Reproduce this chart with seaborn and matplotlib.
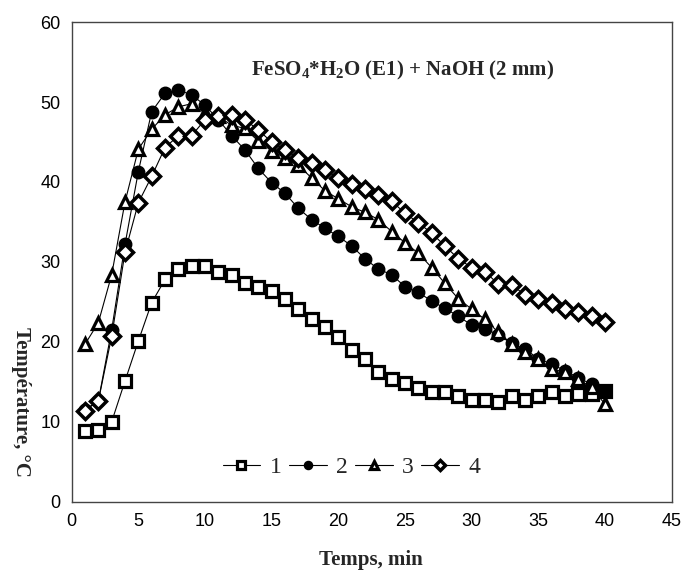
import matplotlib
matplotlib.use("Agg")
import matplotlib.pyplot as plt
import seaborn as sns
import pandas as pd
import numpy as np

sns.set_style("white")
plt.rcParams['font.family'] = ['Liberation Sans', 'DejaVu Sans']
plt.rcParams['mathtext.fontset'] = 'custom'
plt.rcParams['mathtext.rm'] = 'Liberation Serif:bold'
plt.rcParams['mathtext.bf'] = 'Liberation Serif:bold'
plt.rcParams['mathtext.it'] = 'Liberation Serif:bold'

time_min = list(range(1, 41))
series_labels = ["1", "2", "3", "4"]
s1 = [8.8, 9.0, 10.0, 15.1, 20.1, 24.9, 27.8, 29.1, 29.5, 29.5,
      28.7, 28.3, 27.4, 26.8, 26.3, 25.4, 24.1, 22.8, 21.9, 20.6,
      19.0, 17.9, 16.2, 15.4, 14.8, 14.2, 13.7, 13.7, 13.2, 12.7,
      12.7, 12.5, 13.2, 12.7, 13.2, 13.7, 13.2, 13.5, 13.5, 13.8]
s2 = [11.5, 12.6, 21.5, 32.2, 41.3, 48.8, 51.1, 51.5, 50.9, 49.6,
      47.8, 45.8, 44.0, 41.7, 39.9, 38.6, 36.7, 35.3, 34.2, 33.2,
      32.0, 30.4, 29.1, 28.4, 26.9, 26.2, 25.1, 24.2, 23.2, 22.1,
      21.6, 20.9, 19.8, 19.1, 17.9, 17.2, 16.4, 15.5, 14.7, 13.9]
s3 = [19.7, 22.4, 28.4, 37.5, 44.1, 46.6, 48.4, 49.4, 49.8, 48.6,
      48.2, 47.1, 46.7, 45.1, 43.9, 43.0, 42.1, 40.5, 38.9, 37.9,
      36.9, 36.2, 35.3, 33.8, 32.4, 31.1, 29.3, 27.3, 25.4, 24.1,
      22.8, 21.2, 19.7, 18.7, 17.9, 16.6, 16.2, 15.3, 14.3, 12.2]
s4 = [11.4, 12.6, 20.7, 31.2, 37.4, 40.7, 44.3, 45.8, 45.8, 47.8,
      48.2, 48.4, 47.8, 46.5, 45.0, 44.0, 43.0, 42.4, 41.5, 40.5,
      39.7, 39.1, 38.4, 37.6, 36.1, 34.9, 33.6, 32.0, 30.4, 29.3,
      28.8, 27.2, 27.1, 25.9, 25.3, 24.9, 24.1, 23.7, 23.2, 22.5]
x_ticks = [0, 5, 10, 15, 20, 25, 30, 35, 40, 45]
y_ticks = [0, 10, 20, 30, 40, 50, 60]

series = [s1, s2, s3, s4]
styles = [
    dict(marker='s', markerfacecolor='white', markersize=8.5, markeredgewidth=2.3),
    dict(marker='o', markerfacecolor='black', markersize=9, markeredgewidth=1.0),
    dict(marker='^', markerfacecolor='white', markersize=9, markeredgewidth=2.3),
    dict(marker='D', markerfacecolor='white', markersize=8.5, markeredgewidth=2.5),
]

fig = plt.figure(figsize=(6.86, 5.83), dpi=100)
ax = fig.add_axes([0.1045, 0.1395, 0.8745, 0.8225])

for lab, vals, st in zip(series_labels, series, styles):
    df = pd.DataFrame({"t": time_min, "T": vals})
    sns.lineplot(data=df, x="t", y="T", ax=ax, color='black', linewidth=0.8,
                 markeredgecolor='black', label=lab, **st)

ax.set_xlim(0, 45)
ax.set_ylim(0, 60)
ax.set_xticks(x_ticks)
ax.set_yticks(y_ticks)
ax.tick_params(direction='in', length=4, width=0.8, labelsize=13, colors='black', pad=8)
for sp in ax.spines.values():
    sp.set_color('#444444')
    sp.set_linewidth(1.0)
ax.set_xlabel("")
ax.set_ylabel("")

leg = ax.legend(loc='center', bbox_to_anchor=(0.466, 0.072), ncol=4, frameon=False,
                prop={'family': 'Liberation Serif', 'size': 17},
                handlelength=1.6, handletextpad=0.4, columnspacing=0.3,
                markerscale=0.65)

ax.text(0.805, 0.90, r'FeSO$_\mathbf{4}$*H$_\mathbf{2}$O (E1) + NaOH (2 mm)',
        transform=ax.transAxes, ha='right', va='center',
        fontsize=15, fontweight='bold', family='Liberation Serif')

fig.text(0.541, 0.04, "Temps, min", ha='center', va='center',
         fontsize=15, fontweight='bold', family='Liberation Serif')
fig.text(0.031, 0.31, "Température, °C", ha='center', va='center', rotation=-90,
         fontsize=15, fontweight='bold', family='Liberation Serif')

fig.savefig("out.png", dpi=100)
